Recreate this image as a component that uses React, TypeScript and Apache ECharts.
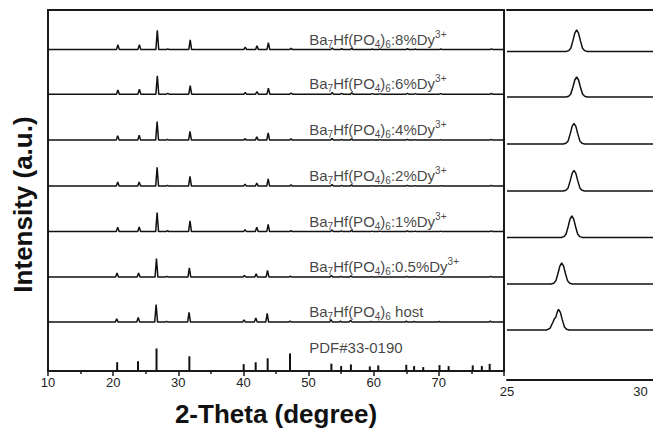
import React, { useEffect, useRef } from "react";
import * as echarts from "echarts";

// ---- data ----
const sampleLabels = ["8%", "6%", "4%", "2%", "1%", "0.5%", "host"];
// vertical offsets of the stacked patterns (a.u.)
const offsets = [328.5, 283, 236, 189, 142.5, 96, 50];
// reflection positions of the host (2θ, degree)
const peakPos = [20.55, 23.85, 26.6, 28.2, 31.65, 40.1, 41.9, 43.65, 47.15, 53.45, 54.9, 56.45, 59.6, 60.8, 65.0, 66.2, 70.1, 77.9];
// peak shift of each sample (degree)
const shifts = [0.18, 0.18, 0.15, 0.15, 0.15, 0.05, 0];
// peak intensities of each sample
const heights = [
  [5, 5, 19.7, 0.8, 10, 2.5, 4, 7, 1.5, 1.8, 1, 1.5, 0.6, 0.6, 1, 0.6, 0.6, 0.8],
  [4.3, 5, 18.7, 0.8, 8.7, 1.7, 2.7, 6, 1.2, 1.6, 0.8, 1.3, 0.5, 0.5, 0.8, 0.5, 0.5, 0.7],
  [4.6, 5, 19, 0.8, 9, 1.5, 3.3, 7.3, 1.2, 1.6, 0.8, 1.3, 0.5, 0.5, 0.8, 0.5, 0.5, 0.7],
  [4.3, 4.3, 19.3, 0.8, 10, 2, 3, 7.3, 1.2, 1.6, 0.8, 1.3, 0.5, 0.5, 0.8, 0.5, 0.5, 0.7],
  [4.4, 4.7, 19.4, 1, 11, 2, 4.5, 7.4, 1, 1.6, 0.8, 1.3, 0.5, 0.5, 0.8, 0.5, 0.5, 0.7],
  [4.3, 4.3, 19, 0.8, 9.3, 1.5, 3.3, 6.7, 1, 1.6, 0.8, 1.3, 0.5, 0.5, 0.8, 0.5, 0.5, 0.7],
  [3.3, 4.7, 18, 0.8, 10, 2.3, 4.3, 9, 1, 2.5, 1, 2, 0.6, 0.6, 1, 0.6, 0.6, 1],
];

// zoomed 25–30° panel
const zoomCenters = [27.61, 27.61, 27.51, 27.51, 27.43, 27.05, 26.93];
const zoomHeights = [21.7, 20, 20.7, 20.7, 21.6, 21, 20.7];
const peakProfile = [
  [-0.4, 0], [-0.3, 0.04], [-0.22, 0.15], [-0.14, 0.5], [-0.07, 0.85], [0, 1],
  [0.07, 0.85], [0.14, 0.5], [0.22, 0.15], [0.3, 0.04], [0.4, 0],
];
const hostProfile = [
  [-0.45, 0], [-0.32, 0.08], [-0.22, 0.35], [-0.15, 0.55], [-0.1, 0.62], [-0.05, 0.85], [0, 1],
  [0.07, 0.85], [0.14, 0.5], [0.22, 0.15], [0.3, 0.04], [0.4, 0],
];

// standard card PDF#33-0190
const pdfPos = [20.62, 23.82, 26.66, 31.7, 40.04, 41.88, 43.72, 47.15, 53.5, 55.0, 56.5, 59.4, 60.7, 65.0, 66.2, 67.6, 70.1, 71.5, 75.2, 76.6, 77.8];
const pdfInt = [9, 10, 23, 15, 7, 9, 13, 18, 7.5, 5, 6.7, 4.7, 5.7, 6.3, 5, 4, 6, 5, 5.7, 5, 7.3];

const labelX = 50.1;
const labelRise = 10.5;
const pdfLabelY = 24;

const FONT = "Liberation Sans, Arial, Helvetica, sans-serif";
const INK = "#111";

function buildPattern(i: number): number[][] {
  const off = offsets[i];
  const pts: number[][] = [[10, off]];
  const w = 0.22;
  peakPos.forEach((p, k) => {
    const c = p + shifts[i];
    pts.push([c - w, off], [c, off + heights[i][k]], [c + w, off]);
  });
  pts.push([80, off]);
  return pts;
}

function buildZoom(i: number): number[][] {
  const off = offsets[i];
  const prof = i === 6 ? hostProfile : peakProfile;
  const pts: number[][] = [[25, off]];
  prof.forEach(([dx, r]) => pts.push([zoomCenters[i] + dx, off + r * zoomHeights[i]]));
  pts.push([30.47, off]);
  return pts;
}

function labelText(i: number): string {
  const s = sampleLabels[i];
  if (s === "host") return "Ba{s|7}Hf(PO{s|4}){s|6} host";
  return "Ba{s|7}Hf(PO{s|4}){s|6}:" + s + "Dy{p|3+}";
}

export default function App() {
  const ref = useRef<HTMLDivElement>(null);
  useEffect(() => {
    if (!ref.current) return;
    const chart = echarts.init(ref.current, undefined, { renderer: "svg" });

    const series: any[] = [];
    sampleLabels.forEach((_, i) => {
      series.push({
        type: "line",
        xAxisIndex: 0,
        yAxisIndex: 0,
        data: buildPattern(i),
        symbol: "none",
        lineStyle: { color: INK, width: 1.5 },
        silent: true,
      });
      series.push({
        type: "line",
        xAxisIndex: 1,
        yAxisIndex: 1,
        data: buildZoom(i),
        symbol: "none",
        lineStyle: { color: INK, width: 1.5 },
        silent: true,
      });
    });
    series.push({
      type: "bar",
      xAxisIndex: 0,
      yAxisIndex: 0,
      data: pdfPos.map((p, k) => [p, pdfInt[k]]),
      barWidth: 2,
      itemStyle: { color: INK },
      silent: true,
    });
    const labelData = sampleLabels.map((_, i) => [labelX, offsets[i] + labelRise]);
    labelData.push([labelX, pdfLabelY]);
    series.push({
      type: "scatter",
      xAxisIndex: 0,
      yAxisIndex: 0,
      data: labelData,
      symbolSize: 0,
      silent: true,
      label: {
        show: true,
        position: "right",
        distance: 0,
        formatter: (p: any) => (p.dataIndex < sampleLabels.length ? labelText(p.dataIndex) : "PDF#33-0190"),
        fontFamily: FONT,
        fontSize: 15,
        lineHeight: 20,
        color: "#111",
        rich: {
          s: { fontSize: 10, lineHeight: 8, verticalAlign: "bottom", fontFamily: FONT, color: "#111" },
          p: { fontSize: 10, lineHeight: 2, verticalAlign: "top", fontFamily: FONT, color: "#111" },
        },
      },
    });

    const axisLabel = { fontSize: 13, color: "#222", margin: 5, fontFamily: FONT };
    const nameStyle = { fontSize: 26, fontWeight: "bold", color: "#111", fontFamily: FONT };

    chart.setOption({
      animation: false,
      grid: [
        { left: 48, top: 10, width: 456, height: 369, show: true, borderColor: "#1a1a1a", borderWidth: 2 },
        { left: 507, top: 10, width: 152, height: 370 },
      ],
      xAxis: [
        {
          gridIndex: 0, type: "value", min: 10, max: 80, interval: 10,
          axisLine: { show: true, lineStyle: { color: "#1a1a1a", width: 2 } },
          axisTick: { show: true, length: 5, inside: false, lineStyle: { color: "#1a1a1a", width: 1.5 } },
          minorTick: { show: true, splitNumber: 2, length: 3, lineStyle: { color: "#1a1a1a", width: 1.5 } },
          splitLine: { show: false },
          axisLabel: { ...axisLabel, showMaxLabel: false },
          name: "2-Theta (degree)", nameLocation: "middle", nameGap: 30, nameTextStyle: nameStyle,
        },
        {
          gridIndex: 1, type: "value", min: 25, max: 30.47, interval: 5,
          axisLine: { show: true, onZero: false, lineStyle: { color: "#1a1a1a", width: 2 } },
          axisTick: { show: false },
          splitLine: { show: false },
          axisLabel: { ...axisLabel, showMaxLabel: false },
        },
        {
          gridIndex: 1, type: "value", position: "top", min: 25, max: 30.47, interval: 5,
          axisLine: { show: true, onZero: false, lineStyle: { color: "#1a1a1a", width: 2 } },
          axisTick: { show: false }, axisLabel: { show: false }, splitLine: { show: false },
        },
      ],
      yAxis: [
        {
          gridIndex: 0, type: "value", min: 0, max: 369,
          axisLine: { show: true, lineStyle: { color: "#1a1a1a", width: 2 } },
          axisTick: { show: false }, axisLabel: { show: false }, splitLine: { show: false },
          name: "Intensity (a.u.)", nameLocation: "middle", nameGap: 12, nameRotate: 90,
          nameTextStyle: { ...nameStyle, padding: [0, 28, 0, 0] },
        },
        { gridIndex: 1, type: "value", min: 0, max: 370, show: false },
      ],
      series,
    });
    return () => chart.dispose();
  }, []);
  return (
    <div
      ref={ref}
      style={{ position: "fixed", left: 0, top: 0, width: 653, height: 432, background: "#fff" }}
    />
  );
}
